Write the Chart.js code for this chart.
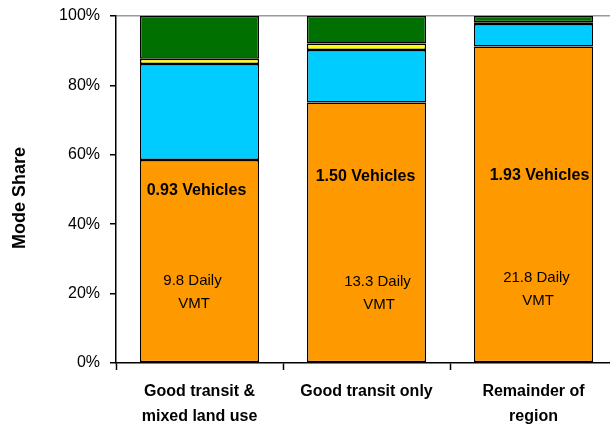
<!DOCTYPE html>
<html>
<head>
<meta charset="utf-8">
<script src="https://cdn.jsdelivr.net/npm/chart.js@4/dist/chart.umd.min.js"></script>
<style>
  html, body { margin: 0; padding: 0; background: #fff; overflow: hidden; }
  #wrap { width: 617px; height: 427px; }
</style>
</head>
<body>
<div id="wrap"><canvas id="c" width="617" height="427"></canvas></div>
<script>
// Area types
const categories = [
  ['Good transit &', 'mixed land use'],
  ['Good transit only'],
  ['Remainder of', 'region']
];

// Mode share by area type (percent of trips)
const autoShare    = [58.5, 75.1, 91.2];
const transitShare = [27.7, 15.1, 6.5];
const bikeShare    = [1.5, 1.9, 0.5];
const walkShare    = [12.3, 7.9, 1.8];

// Household stats printed inside each bar
const vehicleLabels = ['0.93 Vehicles', '1.50 Vehicles', '1.93 Vehicles'];
const vmtLabels = [['9.8 Daily', 'VMT'], ['13.3 Daily', 'VMT'], ['21.8 Daily', 'VMT']];

// Y-axis ticks
const yTicks = [0, 20, 40, 60, 80, 100];

const FONT = "'Liberation Sans', Arial, sans-serif";

// Where the in-bar annotations sit (pixel offset from bar centre, height in axis %)
const notePlacement = [
  { vehDx: -3, vehAt: 49.8, vmtDx: -7, vmtAt: 23.6 },
  { vehDx: -1, vehAt: 53.6, vmtDx: 11, vmtAt: 23.4 },
  { vehDx: 6,  vehAt: 54.1, vmtDx: 3,  vmtAt: 24.6 }
];

const barNotes = {
  id: 'barNotes',
  afterDatasetsDraw(chart) {
    const { ctx, scales: { x, y } } = chart;
    ctx.save();
    ctx.fillStyle = '#000';
    ctx.textAlign = 'center';
    ctx.textBaseline = 'middle';
    vehicleLabels.forEach((txt, i) => {
      const p = notePlacement[i];
      const cx = x.getPixelForValue(i);
      ctx.font = 'bold 16px ' + FONT;
      ctx.fillText(txt, cx + p.vehDx, y.getPixelForValue(p.vehAt));
      ctx.font = '15px ' + FONT;
      const y0 = y.getPixelForValue(p.vmtAt);
      vmtLabels[i].forEach((line, k) => {
        ctx.fillText(line, cx + p.vmtDx + (k ? 1.5 : 0), y0 + k * 23);
      });
    });
    ctx.restore();
  }
};

// Rotated axis title
const axisTitle = {
  id: 'axisTitle',
  afterDraw(chart) {
    const { ctx } = chart;
    ctx.save();
    ctx.translate(20, 198);
    ctx.rotate(-Math.PI / 2);
    ctx.font = 'bold 18px ' + FONT;
    ctx.fillStyle = '#000';
    ctx.textAlign = 'center';
    ctx.textBaseline = 'middle';
    ctx.fillText('Mode Share', 0, 0);
    ctx.restore();
  }
};

const seg = (label, data, color) => ({
  label, data,
  backgroundColor: color,
  borderColor: '#000',
  borderWidth: 1.5,
  borderSkipped: false,
  categoryPercentage: 1,
  barPercentage: 0.714
});

new Chart(document.getElementById('c'), {
  type: 'bar',
  data: {
    labels: categories,
    datasets: [
      seg('Auto', autoShare, '#FF9900'),
      seg('Transit', transitShare, '#00CCFF'),
      seg('Bike', bikeShare, '#FFFF00'),
      seg('Walk', walkShare, '#007000')
    ]
  },
  options: {
    responsive: false,
    animation: false,
    layout: { padding: { top: 16, right: 0, bottom: 0, left: 0 } },
    plugins: {
      legend: { display: false },
      tooltip: { enabled: false }
    },
    scales: {
      x: {
        stacked: true,
        afterFit(s) { s.height = 64; s.paddingLeft = 0; s.paddingRight = 0; },
        border: { color: '#000', width: 1.5 },
        grid: {
          offset: true,
          drawOnChartArea: false,
          tickLength: 7,
          tickColor: '#000',
          tickWidth: 1.5
        },
        ticks: {
          color: '#000',
          padding: 9,
          maxRotation: 0,
          autoSkip: false,
          font: { family: FONT, size: 16, weight: 'bold', lineHeight: 1.5625 }
        }
      },
      y: {
        stacked: true,
        min: 0,
        max: 100,
        afterFit(s) { s.width = 116; s.paddingTop = 0; s.paddingBottom = 0; },
        afterBuildTicks(s) { s.ticks = yTicks.map(v => ({ value: v })); },
        border: { color: '#000', width: 1.5 },
        grid: {
          color: ctx => (ctx.tick && ctx.tick.value === 100 ? '#9a9a9a' : 'transparent'),
          lineWidth: 1.5,
          tickLength: 6,
          tickColor: '#000',
          tickWidth: 1.5
        },
        ticks: {
          color: '#000',
          padding: 10,
          font: { family: FONT, size: 16 },
          callback: v => v + '%'
        }
      }
    }
  },
  plugins: [barNotes, axisTitle]
});
</script>
</body>
</html>
